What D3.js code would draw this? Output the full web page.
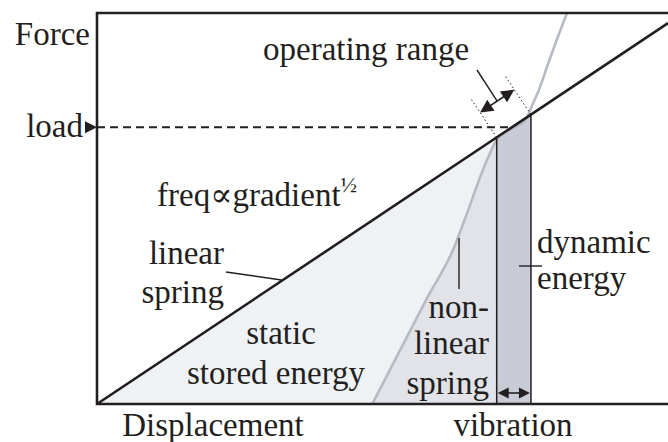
<!DOCTYPE html>
<html>
<head>
<meta charset="utf-8">
<script src="https://cdn.jsdelivr.net/npm/d3@7"></script>
<style>
  html, body { margin: 0; padding: 0; background: #fff; }
  svg text { font-family: "Liberation Serif", "DejaVu Serif", serif; font-size: 33px; fill: #231f20; }
</style>
</head>
<body>
<svg id="chart" width="668" height="442"></svg>
<script>
// ── Data ────────────────────────────────────────────────────────────
var axisLabels = ["Force", "Displacement"];
var linearDisp  = [0, 100];
var linearForce = [0, 97.4];
var nonlinearDisp  = [48.2, 53.0, 57.8, 62.5, 64.3, 68.3, 70.0, 72.3, 75.0, 76.4, 77.6, 78.8, 82.3];
var nonlinearForce = [0, 13.5, 27.1, 39.9, 46.8, 62.4, 67.6, 70.1, 72.6, 77.0, 81.1, 86.2, 100];
var loadForce = 70.8;
var operatingRange = [70, 76];

var svg = d3.select("#chart");

var x = d3.scaleLinear().domain([0, 100]).range([97, 668]);
var y = d3.scaleLinear().domain([0, 100]).range([404, 13]);

var k = linearForce[1] / linearDisp[1];
function lin(d) { return k * d; }

var nonlinear = nonlinearDisp.map(function (d, i) { return [d, nonlinearForce[i]]; });

// ── Fills ───────────────────────────────────────────────────────────
var underLinear = d3.area()
  .x(function (d) { return x(d); })
  .y0(y(0))
  .y1(function (d) { return y(lin(d)); });

svg.append("path")
  .attr("d", underLinear([0, operatingRange[0]]))
  .attr("fill", "#eef2f4");

var underCurve = d3.area()
  .curve(d3.curveMonotoneX)
  .x(function (d) { return x(d[0]); })
  .y0(y(0))
  .y1(function (d) { return y(d[1]); });

svg.append("path")
  .attr("d", underCurve(nonlinear.filter(function (d) { return d[0] <= operatingRange[0]; })))
  .attr("fill", "#e1e3e8");

svg.append("path")
  .attr("d", underLinear(operatingRange))
  .attr("fill", "#c9ccd6");

// ── Nonlinear spring ────────────────────────────────────────────────
svg.append("clipPath").attr("id", "frame-clip")
  .append("rect")
  .attr("x", x(0)).attr("y", y(100))
  .attr("width", x(100) - x(0)).attr("height", y(0) - y(100));

svg.append("path")
  .attr("clip-path", "url(#frame-clip)")
  .attr("d", d3.line().curve(d3.curveMonotoneX)
    .x(function (d) { return x(d[0]); })
    .y(function (d) { return y(d[1]); })(nonlinear))
  .attr("fill", "none")
  .attr("stroke", "#b6bbc3")
  .attr("stroke-width", 2.6);

// ── Operating range edges ───────────────────────────────────────────
operatingRange.forEach(function (d) {
  svg.append("line")
    .attr("x1", x(d)).attr("x2", x(d))
    .attr("y1", y(lin(d))).attr("y2", y(0))
    .attr("stroke", "#231f20").attr("stroke-width", 1.5);
});

// ── Load line ───────────────────────────────────────────────────────
svg.append("line")
  .attr("x1", x(0)).attr("x2", x(loadForce / k))
  .attr("y1", y(loadForce)).attr("y2", y(loadForce))
  .attr("stroke", "#231f20").attr("stroke-width", 2)
  .attr("stroke-dasharray", "8,5");

svg.append("path")
  .attr("d", "M" + (x(0) - 12) + "," + (y(loadForce) - 6) +
             "L" + x(0) + "," + y(loadForce) +
             "L" + (x(0) - 12) + "," + (y(loadForce) + 6) + "Z")
  .attr("fill", "#231f20");

// ── Linear spring ───────────────────────────────────────────────────
svg.append("line")
  .attr("x1", x(linearDisp[0])).attr("y1", y(linearForce[0]))
  .attr("x2", x(linearDisp[1])).attr("y2", y(linearForce[1]))
  .attr("stroke", "#231f20").attr("stroke-width", 2.6);

// ── Frame ───────────────────────────────────────────────────────────
svg.append("path")
  .attr("d", "M" + x(100) + "," + y(100) + "H" + x(0) + "V" + y(0) + "H" + x(100))
  .attr("fill", "none")
  .attr("stroke", "#231f20").attr("stroke-width", 2.6);

// ── Arrow helper ────────────────────────────────────────────────────
function arrowHead(px, py, ux, uy, len, half) {
  var bx = px - ux * len, by = py - uy * len;
  return "M" + px + "," + py +
         "L" + (bx - uy * half) + "," + (by + ux * half) +
         "L" + (bx + uy * half) + "," + (by - ux * half) + "Z";
}

function doubleArrow(x1, y1, x2, y2, len, half) {
  var dx = x2 - x1, dy = y2 - y1, n = Math.sqrt(dx * dx + dy * dy);
  var ux = dx / n, uy = dy / n;
  svg.append("line")
    .attr("x1", x1 + ux * len * 0.5).attr("y1", y1 + uy * len * 0.5)
    .attr("x2", x2 - ux * len * 0.5).attr("y2", y2 - uy * len * 0.5)
    .attr("stroke", "#231f20").attr("stroke-width", 1.6);
  svg.append("path").attr("d", arrowHead(x2, y2, ux, uy, len, half)).attr("fill", "#231f20");
  svg.append("path").attr("d", arrowHead(x1, y1, -ux, -uy, len, half)).attr("fill", "#231f20");
}

// vibration arrow
doubleArrow(x(operatingRange[0]) + 1, 393, x(operatingRange[1]) - 1, 393, 11, 5.5);

// operating range arrow, offset perpendicular to the linear spring
var p0 = [x(operatingRange[0]), y(lin(operatingRange[0]))];
var p1 = [x(operatingRange[1]), y(lin(operatingRange[1]))];
var ddx = p1[0] - p0[0], ddy = p1[1] - p0[1], dn = Math.sqrt(ddx * ddx + ddy * ddy);
var nx = ddy / dn, ny = -ddx / dn;  // normal pointing up-left
if (ny > 0) { nx = -nx; ny = -ny; }

[p0, p1].forEach(function (p) {
  svg.append("line")
    .attr("x1", p[0]).attr("y1", p[1])
    .attr("x2", p[0] + nx * 46).attr("y2", p[1] + ny * 46)
    .attr("stroke", "#231f20").attr("stroke-width", 1)
    .attr("stroke-dasharray", "1.5,2.5");
});
doubleArrow(p0[0] + nx * 30, p0[1] + ny * 30, p1[0] + nx * 30, p1[1] + ny * 30, 13, 6.5);

// ── Leader lines ────────────────────────────────────────────────────
function leader(x1, y1, x2, y2) {
  svg.append("line")
    .attr("x1", x1).attr("y1", y1).attr("x2", x2).attr("y2", y2)
    .attr("stroke", "#231f20").attr("stroke-width", 1.4);
}
leader(477, 70, (p0[0] + p1[0]) / 2 + nx * 30, (p0[1] + p1[1]) / 2 + ny * 30);
leader(226, 272, x(32.3), y(lin(32.3)) - 1);
leader(459, 238, 459, 289);
leader(519, 266, 542, 266);

// ── Text ────────────────────────────────────────────────────────────
function label(text, tx, ty, anchor) {
  return svg.append("text")
    .attr("x", tx).attr("y", ty)
    .attr("text-anchor", anchor || "start")
    .text(text);
}

label(axisLabels[0], 90, 45, "end");
label(axisLabels[1], 213, 436, "middle");
label("vibration", 513, 436, "middle");
label("load", 83, 137, "end");
label("operating range", 263, 60);

var freq = label("freq\u221Dgradient", 157, 206);
freq.append("tspan").attr("font-size", "22px").attr("dy", -14).text("\u00BD");

label("linear", 224, 264, "end");
label("spring", 224, 303, "end");
label("static", 281, 344, "middle");
label("stored energy", 276, 384, "middle");
label("non-", 489, 318, "end");
label("linear", 489, 354, "end");
label("spring", 489, 394, "end");
label("dynamic", 537, 253);
label("energy", 537, 289);
</script>
</body>
</html>
